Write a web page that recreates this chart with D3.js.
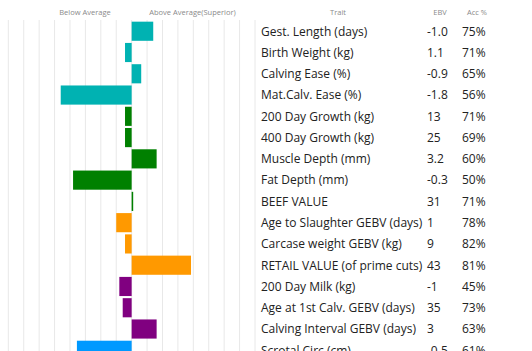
<!DOCTYPE html>
<html>
<head>
  <script src="https://d3js.org/d3.v7.min.js"></script>
  <style>
    body { margin: 0; background: #fff; }
    text { font-family: "Open Sans", sans-serif; }
  </style>
</head>
<body>
  <div id="chart"></div>
  <script>
    // chart data
    const traits = ["Gest. Length (days)", "Birth Weight (kg)", "Calving Ease (%)", "Mat.Calv. Ease (%)",
      "200 Day Growth (kg)", "400 Day Growth (kg)", "Muscle Depth (mm)", "Fat Depth (mm)", "BEEF VALUE",
      "Age to Slaughter GEBV (days)", "Carcase weight GEBV (kg)", "RETAIL VALUE (of prime cuts)",
      "200 Day Milk (kg)", "Age at 1st Calv. GEBV (days)", "Calving Interval GEBV (days)", "Scrotal Circ (cm)"];
    const ebv = ["-1.0", "1.1", "-0.9", "-1.8", "13", "25", "3.2", "-0.3", "31", "1", "9", "43", "-1", "35", "3", "-0.5"];
    const acc = ["75%", "71%", "65%", "56%", "71%", "69%", "60%", "50%", "71%", "78%", "82%", "81%", "45%", "73%", "63%", "61%"];
    // bar length in grid units (above average to the right)
    const barValues = [1.4, -0.43, 0.62, -4.6, -0.43, -0.43, 1.62, -3.8, 0.1, -1.0, -0.43, 3.85, -0.8, -0.58, 1.62, -3.55];
    const groups = ["calving", "calving", "calving", "calving", "growth", "growth", "growth", "growth", "growth",
      "carcase", "carcase", "carcase", "fertility", "fertility", "fertility", "other"];
    const groupColors = { calving: "#00b2b2", growth: "#008000", carcase: "#ff9900", fertility: "#800080", other: "#0099ff" };
    const gridTicks = d3.range(-8, 9);

    const width = 532, height = 351;
    const svg = d3.select("#chart").append("svg")
      .attr("width", width)
      .attr("height", height);

    const x = d3.scaleLinear().domain([-8, 8]).range([8.3, 255]);
    const y = d3.scaleBand().domain(traits)
      .range([20.6, 20.6 + 21.27 * 16])
      .paddingInner(0.1)
      .paddingOuter(0.05);

    // grid
    svg.append("g").selectAll("line")
      .data(gridTicks)
      .enter().append("line")
      .attr("x1", d => x(d)).attr("x2", d => x(d))
      .attr("y1", 20).attr("y2", height)
      .attr("stroke", "#e8e8e8")
      .attr("stroke-width", 1);

    // bars
    svg.append("g").selectAll("rect")
      .data(traits)
      .enter().append("rect")
      .attr("x", (d, i) => x(Math.min(0, barValues[i])))
      .attr("y", d => y(d))
      .attr("width", (d, i) => Math.abs(x(barValues[i]) - x(0)))
      .attr("height", y.bandwidth())
      .attr("fill", (d, i) => groupColors[groups[i]]);

    // headers
    const header = svg.append("g")
      .attr("fill", "#8a8a8a")
      .style("font-size", "7.5px");
    header.append("text").attr("x", 85).attr("y", 15).attr("text-anchor", "middle").text("Below Average");
    header.append("text").attr("x", 192.5).attr("y", 15).attr("text-anchor", "middle").text("Above Average(Superior)");
    header.append("text").attr("x", 338).attr("y", 14.5).attr("text-anchor", "middle").text("Trait");
    header.append("text").attr("x", 440).attr("y", 14.5).attr("text-anchor", "middle").text("EBV");
    header.append("text").attr("x", 477).attr("y", 14.5).attr("text-anchor", "middle").text("Acc %");

    // table rows
    const rows = svg.append("g")
      .attr("fill", "#222")
      .style("font-size", "12px");
    rows.selectAll(".trait")
      .data(traits)
      .enter().append("text")
      .attr("class", "trait")
      .attr("x", 261)
      .attr("y", d => y(d) + y.bandwidth() / 2)
      .attr("dy", "0.36em")
      .text(d => d);
    rows.selectAll(".ebv")
      .data(traits)
      .enter().append("text")
      .attr("class", "ebv")
      .attr("x", 427)
      .attr("y", d => y(d) + y.bandwidth() / 2)
      .attr("dy", "0.36em")
      .text((d, i) => ebv[i]);
    rows.selectAll(".acc")
      .data(traits)
      .enter().append("text")
      .attr("class", "acc")
      .attr("x", 462)
      .attr("y", d => y(d) + y.bandwidth() / 2)
      .attr("dy", "0.36em")
      .text((d, i) => acc[i]);
  </script>
</body>
</html>
